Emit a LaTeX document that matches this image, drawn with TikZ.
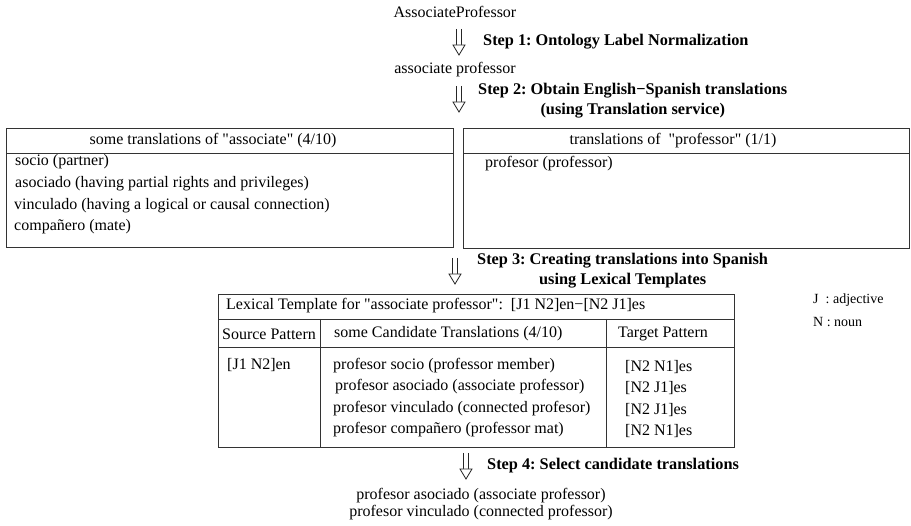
\documentclass[tikz,border=0pt]{standalone}
\usepackage{fontspec}
\setmainfont{Liberation Serif}[Ligatures=TeXOff]
\begin{document}
\frenchspacing
\begin{tikzpicture}[x=1pt,y=-1pt,
  txt/.style={font=\fontsize{16}{19}\selectfont, inner sep=0pt},
  smalltxt/.style={font=\fontsize{14}{16}\selectfont, inner sep=0pt},
  steplbl/.style={font=\fontsize{16.3}{19.5}\selectfont\bfseries, inner sep=0pt, align=center},
  boxline/.style={draw=black!80, line width=0.9pt},
  dblarrow/.pic={
    \draw[line width=0.8pt, black!85] (-2.2,0) -- (-2.2,16) (2.2,0) -- (2.2,16);
    \draw[line width=0.8pt, black!85, fill=white] (-6,16) -- (6,16) -- (0,26) -- cycle;
  }]
\useasboundingbox (0,0) rectangle (911,526);

% top
\node[txt] (ap) at (455,12) {AssociateProfessor};
\coordinate (a1) at (459,29);
\pic at (a1) {dblarrow};
\node[steplbl, anchor=west] (s1) at (483,42) {Step 1: Ontology Label Normalization};
\node[txt] (apn) at (455,70) {associate professor};
\coordinate (a2) at (459,86);
\pic at (a2) {dblarrow};
\node[steplbl, anchor=north west] (s2) at (478,83) {Step 2: Obtain English−Spanish translations\\(using Translation service)};

% left box
\draw[boxline] (6,128) rectangle (453,247);
\draw[boxline] (6,153) -- (453,153);
\node[txt] (lh) at (213,141) {some translations of "associate" (4/10)};
\node[txt, anchor=west] (l1) at (15,162) {socio (partner)};
\node[txt, anchor=west] (l2) at (15,184) {asociado (having partial rights and privileges)};
\node[txt, anchor=west] (l3) at (14,206) {vinculado (having a logical or causal connection)};
\node[txt, anchor=west] (l4) at (14,227) {compañero (mate)};

% right box
\draw[boxline] (463,128) rectangle (909,248);
\draw[boxline] (463,153) -- (909,153);
\node[txt] (rh) at (673,141) {translations of\ \ "professor" (1/1)};
\node[txt, anchor=west] (r1) at (485,164) {profesor (professor)};

% step 3
\coordinate (a3) at (455,258);
\pic at (a3) {dblarrow};
\node[steplbl, anchor=north west] (s3) at (477,253) {Step 3: Creating translations into Spanish\\using Lexical Templates};

% table
\draw[boxline] (218,294) rectangle (734,447);
\draw[boxline] (218,319) -- (734,319);
\draw[boxline] (218,347) -- (734,347);
\draw[boxline] (320,319) -- (320,447);
\draw[boxline] (606,319) -- (606,447);
\node[txt, anchor=west] (th) at (226,306) {Lexical Template for "associate professor":\ \ [J1 N2]en−[N2 J1]es};
\node[txt] (c1) at (269,334) {Source Pattern};
\node[txt, anchor=west] (c2) at (334,334) {some Candidate Translations (4/10)};
\node[txt, anchor=west] (c3) at (618,334) {Target Pattern};
\node[txt, anchor=west] (sp) at (227,365) {[J1 N2]en};
\node[txt, anchor=west] (t1) at (333,366) {profesor socio (professor member)};
\node[txt, anchor=west] (t2) at (335,387) {profesor asociado (associate professor)};
\node[txt, anchor=west] (t3) at (333,409) {profesor vinculado (connected profesor)};
\node[txt, anchor=west] (t4) at (333,430) {profesor compañero (professor mat)};
\node[txt, anchor=west] (p1) at (625,367) {[N2 N1]es};
\node[txt, anchor=west] (p2) at (625,388) {[N2 J1]es};
\node[txt, anchor=west] (p3) at (625,410) {[N2 J1]es};
\node[txt, anchor=west] (p4) at (625,431) {[N2 N1]es};

% legend
\node[smalltxt, anchor=west] (lj) at (813,300) {J\ \ : adjective};
\node[smalltxt, anchor=west] (ln) at (813,322) {N : noun};

% step 4
\coordinate (a4) at (466,453);
\pic at (a4) {dblarrow};
\node[steplbl, anchor=west] (s4) at (487,466) {Step 4: Select candidate translations};
\node[txt] (f1) at (481,496) {profesor asociado (associate professor)};
\node[txt] (f2) at (481,513) {profesor vinculado (connected professor)};
\end{tikzpicture}
\end{document}
